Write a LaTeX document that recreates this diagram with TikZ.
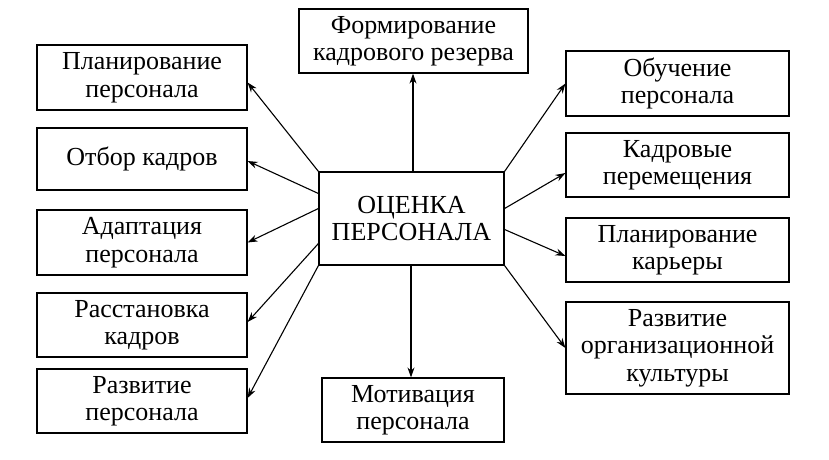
\documentclass[tikz,border=0pt]{standalone}
\usepackage{fontspec}
\setmainfont{Liberation Serif}
\usetikzlibrary{calc, positioning, arrows.meta}

\tikzset{
    box/.style={draw, line width=1.2pt, align=center, inner sep=0pt,
        font=\fontsize{26}{27.5}\selectfont},
    link/.style={line width=1.1pt, -{Stealth[length=10pt, width=7pt]}}
}

\begin{document}
\begin{tikzpicture}[x=1pt, y=-1pt]
    \useasboundingbox (0,0) rectangle (829,459);

    % Центр
    \node[box, minimum width=185pt, minimum height=93pt] (ocenka) at (411.5,218.5) {ОЦЕНКА\\ПЕРСОНАЛА};

    % Левая колонка
    \node[box, minimum width=210pt, minimum height=65pt] (plan) at (142,77.5) {Планирование\\персонала};
    \node[box, minimum width=210pt, minimum height=62pt] (otbor) at (142,159) {Отбор кадров};
    \node[box, minimum width=210pt, minimum height=65pt] (adapt) at (142,242.5) {Адаптация\\персонала};
    \node[box, minimum width=210pt, minimum height=64pt] (rasst) at (142,325) {Расстановка\\кадров};
    \node[box, minimum width=210pt, minimum height=64pt] (razv) at (142,401) {Развитие\\персонала};

    % Верх и низ
    \node[box, minimum width=229pt, minimum height=64pt] (rezerv) at (413.5,41) {Формирование\\кадрового резерва};
    \node[box, minimum width=182pt, minimum height=64pt] (motiv) at (413,410) {Мотивация\\персонала};

    % Правая колонка
    \node[box, minimum width=223pt, minimum height=65pt] (obuch) at (677.5,83.5) {Обучение\\персонала};
    \node[box, minimum width=223pt, minimum height=64pt] (perem) at (677.5,165) {Кадровые\\перемещения};
    \node[box, minimum width=223pt, minimum height=64pt] (karera) at (677.5,250) {Планирование\\карьеры};
    \node[box, minimum width=223pt, minimum height=92pt] (kultura) at (677.5,348) {Развитие\\организационной\\культуры};

    % Стрелки
    \draw[link] (ocenka.north west) -- ([yshift=-5pt]plan.east);
    \draw[link] ([yshift=25pt]ocenka.west) -- ([yshift=-2pt]otbor.east);
    \draw[link] ([yshift=10pt]ocenka.west) -- (adapt.east);
    \draw[link] ([yshift=-25pt]ocenka.west) -- ([yshift=3pt]rasst.east);
    \draw[link] (ocenka.south west) -- ([yshift=3pt]razv.east);
    \draw[link] ([xshift=1.5pt]ocenka.north) -- ([xshift=-0.5pt]rezerv.south);
    \draw[link] ([xshift=-0.5pt]ocenka.south) -- ([xshift=-2pt]motiv.north);
    \draw[link] (ocenka.north east) -- (obuch.west);
    \draw[link] ([yshift=10pt]ocenka.east) -- ([yshift=-8pt]perem.west);
    \draw[link] ([yshift=-11pt]ocenka.east) -- ([yshift=-6pt]karera.west);
    \draw[link] (ocenka.south east) -- (kultura.west);
\end{tikzpicture}
\end{document}
